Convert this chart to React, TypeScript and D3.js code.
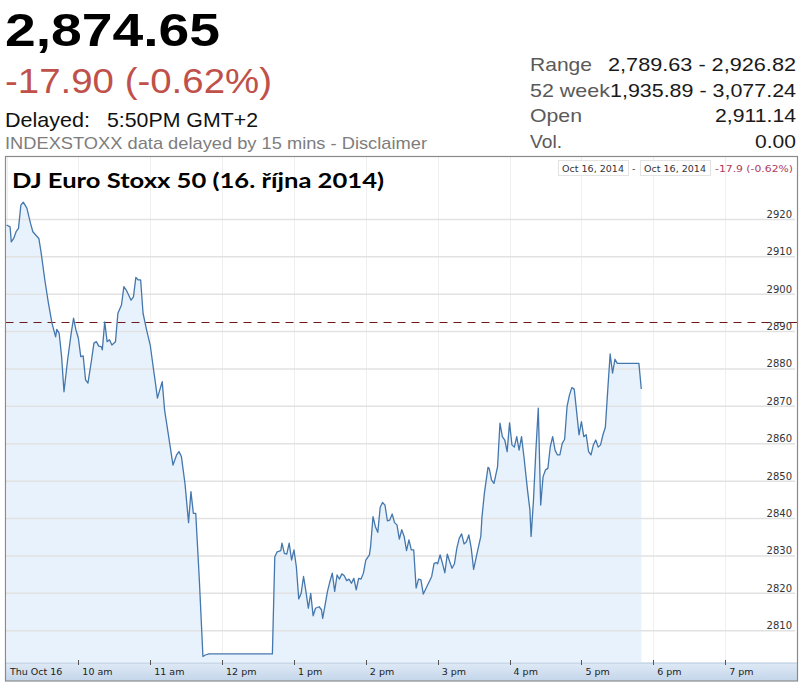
import * as d3 from "d3";

// intraday quotes, 16 Oct 2014 (time, index value)
const times = [
  "09:00", "09:03", "09:04", "09:06", "09:08", "09:10", "09:12", "09:14", "09:17", "09:20",
  "09:22", "09:27", "09:29", "09:32", "09:35", "09:38", "09:41", "09:42", "09:44", "09:46",
  "09:48", "09:51", "09:54", "09:56", "09:58", "10:00", "10:02", "10:04", "10:06", "10:08",
  "10:11", "10:13", "10:15", "10:17", "10:19", "10:20", "10:22", "10:24", "10:26", "10:28",
  "10:31", "10:33", "10:36", "10:38", "10:40", "10:44", "10:46", "10:48", "10:50", "10:52",
  "10:54", "10:57", "11:00", "11:03", "11:04", "11:06", "11:10", "11:12", "11:15", "11:19",
  "11:22", "11:24", "11:26", "11:29", "11:32", "11:34", "11:36", "11:38", "11:41", "11:44",
  "11:46", "11:49", "12:42", "12:44", "12:46", "12:49", "12:50", "12:52", "12:54", "12:56",
  "12:58", "13:00", "13:02", "13:04", "13:06", "13:08", "13:10", "13:12", "13:14", "13:16",
  "13:18", "13:21", "13:23", "13:24", "13:28", "13:30", "13:32", "13:34", "13:36", "13:38",
  "13:40", "13:42", "13:44", "13:46", "13:48", "13:50", "13:52", "13:54", "13:56", "13:58",
  "14:00", "14:03", "14:04", "14:06", "14:08", "14:10", "14:12", "14:14", "14:16", "14:18",
  "14:20", "14:22", "14:24", "14:26", "14:28", "14:30", "14:32", "14:34", "14:36", "14:38",
  "14:40", "14:42", "14:44", "14:46", "14:48", "14:51", "14:55", "14:57", "14:59", "15:00",
  "15:02", "15:04", "15:06", "15:08", "15:10", "15:12", "15:14", "15:16", "15:18", "15:20",
  "15:22", "15:24", "15:26", "15:28", "15:30", "15:33", "15:36", "15:37", "15:39", "15:42",
  "15:43", "15:45", "15:47", "15:50", "15:52", "15:54", "15:56", "15:58", "16:00", "16:02",
  "16:04", "16:06", "16:08", "16:10", "16:12", "16:15", "16:17", "16:18", "16:20", "16:22",
  "16:24", "16:26", "16:28", "16:30", "16:32", "16:34", "16:36", "16:38", "16:40", "16:42",
  "16:44", "16:46", "16:48", "16:50", "16:52", "16:54", "16:56", "16:58", "17:00", "17:02",
  "17:04", "17:06", "17:08", "17:10", "17:12", "17:14", "17:16", "17:18", "17:20", "17:22",
  "17:24", "17:26", "17:28", "17:30", "17:48", "17:50",
];
const values = [
  2918.5, 2918.0, 2914.0, 2914.9, 2916.7, 2917.6, 2923.8, 2924.6, 2923.0, 2919.0,
  2916.7, 2914.9, 2910.9, 2903.8, 2897.6, 2892.2, 2888.6, 2890.6, 2889.5, 2883.3,
  2873.9, 2882.4, 2889.5, 2893.6, 2890.4, 2888.2, 2883.3, 2883.5, 2877.1, 2876.2,
  2882.4, 2886.9, 2887.3, 2886.1, 2886.0, 2885.1, 2892.6, 2887.3, 2887.8, 2886.4,
  2887.3, 2894.9, 2897.1, 2902.0, 2901.1, 2898.4, 2899.3, 2904.5, 2903.8, 2903.8,
  2894.9, 2890.4, 2886.4, 2879.3, 2877.1, 2872.2, 2876.6, 2869.0, 2862.8, 2854.3,
  2857.0, 2857.9, 2856.6, 2849.4, 2838.9, 2847.2, 2841.4, 2841.4, 2823.6, 2803.1,
  2803.5, 2803.8, 2803.8, 2829.8, 2831.1, 2831.4, 2833.4, 2830.7, 2830.5, 2833.4,
  2828.9, 2831.6, 2827.1, 2818.5, 2820.0, 2824.5, 2820.5, 2816.0, 2820.0, 2814.0,
  2816.0, 2816.4, 2815.6, 2813.3, 2820.5, 2823.1, 2825.4, 2820.5, 2824.9, 2823.8,
  2825.2, 2824.7, 2823.4, 2823.8, 2822.7, 2824.0, 2820.9, 2824.0, 2823.8, 2825.4,
  2828.9, 2830.3, 2832.5, 2840.5, 2837.8, 2836.3, 2843.0, 2844.3, 2843.6, 2839.4,
  2839.6, 2841.2, 2838.9, 2838.3, 2834.5, 2837.0, 2835.2, 2831.4, 2834.3, 2831.6,
  2831.6, 2821.4, 2823.8, 2823.6, 2819.8, 2821.8, 2824.5, 2828.0, 2828.2, 2827.9,
  2830.3, 2828.0, 2825.5, 2830.5, 2828.5, 2826.7, 2827.9, 2832.1, 2834.7, 2835.9,
  2833.2, 2833.8, 2835.6, 2832.1, 2826.4, 2830.9, 2835.2, 2840.5, 2846.8, 2853.7,
  2853.4, 2850.3, 2849.4, 2853.9, 2865.5, 2861.9, 2861.0, 2857.9, 2865.6, 2859.7,
  2859.1, 2861.9, 2858.3, 2861.9, 2856.6, 2847.6, 2842.3, 2835.2, 2845.0, 2858.3,
  2869.5, 2843.6, 2851.2, 2853.0, 2853.4, 2859.2, 2861.9, 2858.3, 2857.0, 2857.0,
  2860.1, 2861.2, 2869.9, 2873.0, 2875.0, 2874.6, 2868.6, 2862.4, 2865.9, 2861.9,
  2862.4, 2857.9, 2857.0, 2859.7, 2861.0, 2859.1, 2859.7, 2862.4, 2864.4, 2874.4,
  2884.0, 2878.9, 2882.6, 2881.5, 2881.5, 2874.65,
];

const yTicks = [2810, 2820, 2830, 2840, 2850, 2860, 2870, 2880, 2890, 2900, 2910, 2920];
const xTickLabels = ["Thu Oct 16", "10 am", "11 am", "12 pm", "1 pm", "2 pm", "3 pm", "4 pm", "5 pm", "6 pm", "7 pm"];
const prevClose = 2892.55;

const statLabels = ["Range", "52 week", "Open", "Vol."];
const statLabelWidths = [62, 80, 52, 32];
const statValues = ["2,789.63 - 2,926.82", "1,935.89 - 3,077.24", "2,911.14", "0.00"];
const statWidths = [188, 186, 81, 41];

const day = (hm: string) => {
  const [h, m] = hm.split(":").map(Number);
  return new Date(2014, 9, 16, h, m);
};

const W = 802;
const H = 683;
const frameL = 5.5;
const frameR = 797.5;
const frameT = 156.5;
const plotB = 662;
const bandB = 681;

const crisp = (v: number) => Math.round(v) + 0.5;

export default function App() {
  const data = times.map((t, i) => ({ t: day(t), v: values[i] }));

  const x = d3
    .scaleTime()
    .domain([day("09:00"), day("20:00")])
    .range([6.5, 797]);
  const y = d3.scaleLinear().domain([2810, 2920]).range([630.7, 219.4]);

  const hours = x.ticks(d3.timeHour.every(1)!).slice(0, xTickLabels.length);

  const line = d3
    .line<{ t: Date; v: number }>()
    .x((d) => x(d.t))
    .y((d) => y(d.v));
  const area = d3
    .area<{ t: Date; v: number }>()
    .x((d) => x(d.t))
    .y0(plotB)
    .y1((d) => y(d.v));

  const sans = "'Liberation Sans', Arial, sans-serif";
  const small = "'DejaVu Sans', Verdana, sans-serif";

  return (
    <div style={{ position: "absolute", left: 0, top: 0 }}>
      <svg width={W} height={H} style={{ display: "block", background: "#fff" }}>
        <defs>
          <linearGradient id="band" x1="0" x2="0" y1="0" y2="1">
            <stop offset="0" stopColor="#dfe9f5" />
            <stop offset="1" stopColor="#c4d6ea" />
          </linearGradient>
          <clipPath id="plot">
            <rect x={frameL} y={frameT} width={frameR - frameL} height={plotB - frameT} />
          </clipPath>
        </defs>

        {/* header */}
        <text x={5} y={46} fontFamily={sans} fontWeight="bold" fontSize={46} fill="#000" textLength={215} lengthAdjust="spacingAndGlyphs">
          2,874.65
        </text>
        <text x={5} y={93} fontFamily={sans} fontSize={35} fill="#c0504a" textLength={267} lengthAdjust="spacingAndGlyphs">
          -17.90 (-0.62%)
        </text>
        <text x={5} y={127} fontFamily={sans} fontSize={21} fill="#111" textLength={85} lengthAdjust="spacingAndGlyphs">
          Delayed:
        </text>
        <text x={107} y={127} fontFamily={sans} fontSize={21} fill="#111" textLength={151} lengthAdjust="spacingAndGlyphs">
          5:50PM GMT+2
        </text>
        <text x={5} y={149} fontFamily={sans} fontSize={17} fill="#7d7d7d" textLength={422} lengthAdjust="spacingAndGlyphs">
          INDEXSTOXX data delayed by 15 mins - Disclaimer
        </text>

        {statLabels.map((l, i) => (
          <g key={l}>
            <text
              x={530}
              y={71 + i * 25.7}
              fontFamily={sans}
              fontSize={19}
              fill="#5a5a5a"
              textLength={statLabelWidths[i]}
              lengthAdjust="spacingAndGlyphs"
            >
              {l}
            </text>
            <text
              x={796}
              y={71 + i * 25.7}
              textAnchor="end"
              fontFamily={sans}
              fontSize={19}
              fill="#1a1a1a"
              textLength={statWidths[i]}
              lengthAdjust="spacingAndGlyphs"
            >
              {statValues[i]}
            </text>
          </g>
        ))}

        {/* plot background */}
        <rect x={frameL} y={frameT} width={frameR - frameL} height={bandB - frameT} fill="#fff" />

        {/* vertical hour grid */}
        {hours.map((h, i) => (
          <line key={i} x1={crisp(x(h))} x2={crisp(x(h))} y1={frameT} y2={plotB} stroke="#efefef" strokeWidth={1} />
        ))}

        <g clipPath="url(#plot)">
          <path d={area(data) ?? ""} fill="#e8f2fc" />
        </g>

        {/* horizontal grid */}
        {yTicks.map((v) => (
          <line key={v} x1={frameL} x2={795} y1={y(v)} y2={y(v)} stroke="#e2e2e2" strokeWidth={1.5} />
        ))}

        {/* previous close */}
        <line
          x1={frameL}
          x2={frameR}
          y1={crisp(y(prevClose))}
          y2={crisp(y(prevClose))}
          stroke="#6e1818"
          strokeWidth={1}
          strokeDasharray="8,6"
        />

        <g clipPath="url(#plot)">
          <path d={line(data) ?? ""} fill="none" stroke="#4477ad" strokeWidth={1.3} strokeLinejoin="round" />
        </g>

        {/* y labels */}
        {yTicks.map((v) => (
          <text key={v} x={792} y={y(v) - 1.5} textAnchor="end" fontFamily={small} fontSize={10} fill="#333">
            {v}
          </text>
        ))}

        {/* title */}
        <text x={12} y={188} fontFamily="Lato, 'Open Sans', sans-serif" fontWeight="bold" fontSize={21} fill="#000" textLength={372} lengthAdjust="spacingAndGlyphs">
          DJ Euro Stoxx 50 (16. října 2014)
        </text>

        {/* range legend */}
        <rect x={558.5} y={160.5} width={70} height={15} fill="#fff" stroke="#e3e3e3" />
        <text x={562} y={172} fontFamily={small} fontSize={9.5} fill="#333" textLength={62} lengthAdjust="spacingAndGlyphs">
          Oct 16, 2014
        </text>
        <text x={632} y={172} fontFamily={small} fontSize={9.5} fill="#333">
          -
        </text>
        <rect x={640.5} y={160.5} width={70} height={15} fill="#fff" stroke="#e3e3e3" />
        <text x={644} y={172} fontFamily={small} fontSize={9.5} fill="#333" textLength={62} lengthAdjust="spacingAndGlyphs">
          Oct 16, 2014
        </text>
        <text x={793} y={172} textAnchor="end" fontFamily={small} fontSize={9.5} fill="#b03a5a" textLength={78} lengthAdjust="spacingAndGlyphs">
          -17.9 (-0.62%)
        </text>

        {/* x axis band */}
        <rect x={frameL} y={plotB + 1} width={frameR - frameL} height={bandB - plotB - 1} fill="url(#band)" />
        <line x1={frameL} x2={frameR} y1={plotB + 1} y2={plotB + 1} stroke="#b4c8dd" />
        {hours.map((h, i) => (
          <g key={i}>
            {i > 0 && <line x1={crisp(x(h))} x2={crisp(x(h))} y1={plotB - 2} y2={plotB + 3} stroke="#555" strokeWidth={1} />}
            <text x={i === 0 ? 10 : x(h) + 4} y={675} fontFamily={small} fontSize={9.5} fill="#222">
              {xTickLabels[i]}
            </text>
          </g>
        ))}

        {/* frame */}
        <rect
          x={frameL}
          y={frameT}
          width={frameR - frameL}
          height={bandB - frameT}
          fill="none"
          stroke="#8a8a8a"
          strokeWidth={1.2}
        />
      </svg>
    </div>
  );
}
